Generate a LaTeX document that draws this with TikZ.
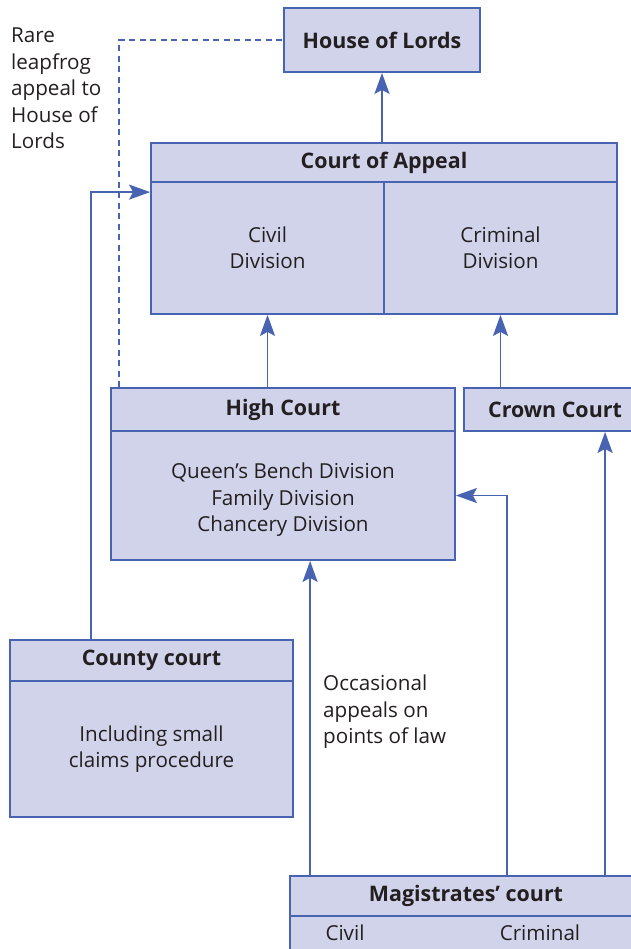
\documentclass[tikz,border=0pt]{standalone}
\usepackage{fontspec}
\setmainfont{Open Sans}
\usetikzlibrary{arrows.meta,calc}
\definecolor{courtblue}{RGB}{72,99,178}
\definecolor{courtfill}{RGB}{209,211,235}
\definecolor{courttext}{RGB}{35,31,32}

\tikzset{
  box/.style={draw=courtblue, fill=courtfill, line width=1.8bp, inner sep=0pt,
    text=courttext, align=center, font=\fontsize{20.7}{26.5}\selectfont},
  head/.style={box, font=\fontsize{21.5}{26.5}\selectfont\bfseries},
  note/.style={align=left, inner sep=0pt, text=courttext,
    font=\fontsize{20.7}{26.5}\selectfont},
  arr/.style={courtblue, line width=1.8bp,
    -{Stealth[length=21bp,width=15bp,inset=4bp]}},
  leap/.style={courtblue, line width=1.8bp, dash pattern=on 6bp off 4.5bp}
}

\begin{document}
\begin{tikzpicture}[x=1bp,y=-1bp]
\clip (0,0) rectangle (631,949);

% courts
\node[head, minimum width=196bp, minimum height=64bp] (hol) at (382,40) {House of Lords};
\node[head, minimum width=466bp, minimum height=39bp] (coaHead) at (384,162.5) {Court of Appeal};
\node[box, minimum width=233bp, minimum height=132bp] (coaCivil) at (267.5,248) {Civil\\Division};
\node[box, minimum width=233bp, minimum height=132bp] (coaCrim) at (500.5,248) {Criminal\\Division};

\node[head, minimum width=344bp, minimum height=43bp] (hcHead) at (283,409.5) {High Court};
\node[box, minimum width=344bp, minimum height=129bp] (hcBody) at (283,495.5) {};
\node[note, align=center] (hcText) at (283,500)
  {Queen’s Bench Division\\Family Division\\Chancery Division};
\node[head, minimum width=182bp, minimum height=43bp] (crown) at (555,409.5) {Crown Court};

\node[head, minimum width=283bp, minimum height=41bp] (cntHead) at (151.5,660.5) {County court};
\node[box, minimum width=283bp, minimum height=136bp] (cntBody) at (151.5,749)
  {Including small\\claims procedure};

\node[head, minimum width=352bp, minimum height=40bp] (magHead) at (466,896) {Magistrates’ court};
\node[box, minimum width=352bp, minimum height=44bp] (magBody) at (466,938) {};
\node[note] (magCivil) at (345,933) {Civil};
\node[note] (magCrim) at (540,933) {Criminal};

% side notes
\node[note, anchor=north west] (leapNote) at (11,28) {Rare\\leapfrog\\appeal to\\House of\\Lords};
\node[note, anchor=north west] (lawNote) at (323,675) {Occasional\\appeals on\\points of law};

% appeal routes
\draw[arr] (hol.south |- coaHead.north) -- (hol.south);
\draw[arr] (coaCivil.south |- hcHead.north) -- (coaCivil.south);
\draw[arr] (coaCrim.south |- crown.north) -- (coaCrim.south);
\draw[arr] ($(cntHead.north west)+(82,0)$) |- ($(coaCivil.north west)+(0,11)$);
\draw[leap] ($(hcHead.north west)+(9,0)$) |- (hol.west);
\draw[arr] ($(magHead.north west)+(21,0)$) coordinate (magOut1) -- (magOut1 |- hcBody.south);
\draw[arr] ($(magHead.north west)+(218,0)$) |- (hcBody.east);
\draw[arr] ($(magHead.north west)+(316,0)$) coordinate (magOut3) -- (magOut3 |- crown.south);
\end{tikzpicture}
\end{document}
